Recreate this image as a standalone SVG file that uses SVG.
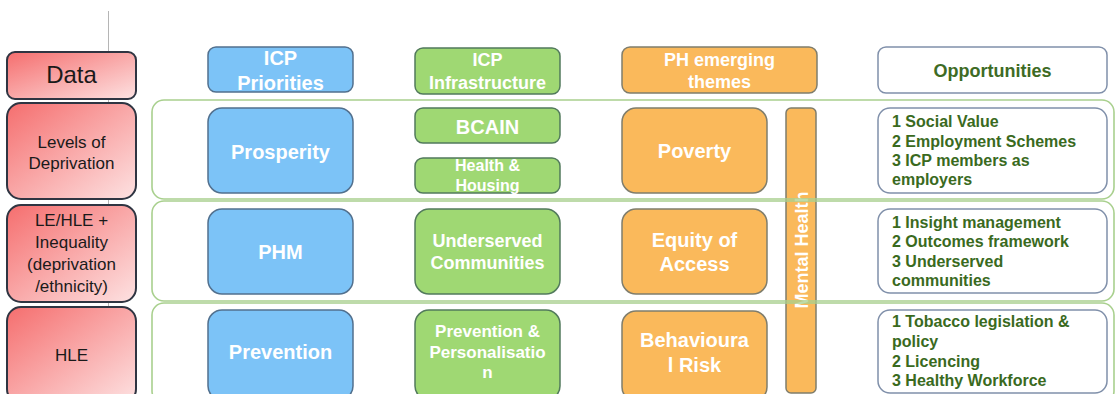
<svg xmlns="http://www.w3.org/2000/svg" width="1116" height="394" viewBox="0 0 1116 394">
  <defs>
    <linearGradient id="redFill" x1="0" y1="0" x2="1" y2="1">
      <stop offset="0" stop-color="#f56e6e"/>
      <stop offset="1" stop-color="#fde2e2"/>
    </linearGradient>
    <style>
      .data { fill: url(#redFill); stroke: #2f3542; stroke-width: 2; }
      .blue { fill: #7cc3f7; stroke: #52708e; stroke-width: 1.5; }
      .green { fill: #9fd873; stroke: #527a5c; stroke-width: 1.5; }
      .orange { fill: #fab95b; stroke: #7f7d6c; stroke-width: 1.5; }
      .opp { fill: #ffffff; stroke: #8090aa; stroke-width: 1.5; }
      .band { fill: none; stroke: #a9d08e; stroke-width: 1.6; }
      .dt { font-family: "Liberation Sans", Arial, sans-serif; fill: #1a1a1a; text-anchor: middle; }
      .wt { font-family: "Liberation Sans", Arial, sans-serif; font-weight: bold; fill: #ffffff; text-anchor: middle; }
      .gt { font-family: "Liberation Sans", Arial, sans-serif; font-weight: bold; fill: #3a6a1e; font-size: 16px; }
    </style>
  </defs>

  <rect width="1116" height="394" fill="#ffffff"/>

  <!-- thin guide line behind the data column -->
  <line x1="108.5" y1="11" x2="108.5" y2="394" stroke="#b5b5b5" stroke-width="1"/>

  <!-- data column -->
  <g id="data-header">
    <rect class="data" x="7" y="52" width="129" height="47" rx="8"/>
    <text class="dt" x="71.5" y="83" font-size="24">Data</text>
  </g>
  <g id="data-deprivation">
    <rect class="data" x="7" y="103" width="129" height="96" rx="14"/>
    <text class="dt" x="71.5" font-size="17"><tspan x="71.5" y="148">Levels of</tspan><tspan x="71.5" y="169">Deprivation</tspan></text>
  </g>
  <g id="data-inequality">
    <rect class="data" x="7" y="205" width="129" height="97" rx="14"/>
    <text class="dt" x="71.5" font-size="17"><tspan x="71.5" y="226">LE/HLE +</tspan><tspan x="71.5" y="248">Inequality</tspan><tspan x="71.5" y="270">(deprivation</tspan><tspan x="71.5" y="292">/ethnicity)</tspan></text>
  </g>
  <g id="data-hle">
    <rect class="data" x="7" y="307" width="129" height="96" rx="14"/>
    <text class="dt" x="71.5" y="361" font-size="17">HLE</text>
  </g>

  <!-- ICP priorities column -->
  <g id="priorities-header">
    <rect class="blue" x="208" y="47" width="145" height="45" rx="8"/>
    <text class="wt" font-size="20"><tspan x="280.5" y="65">ICP</tspan><tspan x="280.5" y="90">Priorities</tspan></text>
  </g>
  <g id="prosperity">
    <rect class="blue" x="208" y="108" width="145" height="85" rx="14"/>
    <text class="wt" x="280.5" y="159" font-size="20">Prosperity</text>
  </g>
  <g id="phm">
    <rect class="blue" x="208" y="209" width="145" height="85" rx="14"/>
    <text class="wt" x="280.5" y="259" font-size="20">PHM</text>
  </g>
  <g id="prevention">
    <rect class="blue" x="208" y="310" width="145" height="90" rx="14"/>
    <text class="wt" x="280.5" y="359" font-size="20">Prevention</text>
  </g>

  <!-- ICP infrastructure column -->
  <g id="infrastructure-header">
    <rect class="green" x="415" y="48" width="145" height="46" rx="8"/>
    <text class="wt" font-size="18"><tspan x="487.5" y="66">ICP</tspan><tspan x="487.5" y="88.5">Infrastructure</tspan></text>
  </g>
  <g id="bcain">
    <rect class="green" x="415" y="108" width="145" height="35" rx="8"/>
    <text class="wt" x="487.5" y="134" font-size="20">BCAIN</text>
  </g>
  <g id="health-housing">
    <rect class="green" x="415" y="158" width="145" height="35" rx="8"/>
    <text class="wt" font-size="16"><tspan x="487.5" y="171">Health &amp;</tspan><tspan x="487.5" y="190.5">Housing</tspan></text>
  </g>
  <g id="underserved">
    <rect class="green" x="415" y="209" width="145" height="85" rx="14"/>
    <text class="wt" font-size="18"><tspan x="487.5" y="247">Underserved</tspan><tspan x="487.5" y="269">Communities</tspan></text>
  </g>
  <g id="personalisation">
    <rect class="green" x="415" y="310" width="145" height="90" rx="14"/>
    <text class="wt" font-size="17"><tspan x="487.5" y="337">Prevention &amp;</tspan><tspan x="487.5" y="358">Personalisatio</tspan><tspan x="487.5" y="378">n</tspan></text>
  </g>

  <!-- PH emerging themes column -->
  <g id="themes-header">
    <rect class="orange" x="622" y="47" width="195" height="46" rx="8"/>
    <text class="wt" font-size="18"><tspan x="719.5" y="65.5">PH emerging</tspan><tspan x="719.5" y="87.5">themes</tspan></text>
  </g>
  <g id="poverty">
    <rect class="orange" x="622" y="108" width="145" height="85" rx="14"/>
    <text class="wt" x="694.5" y="158" font-size="20">Poverty</text>
  </g>
  <g id="equity">
    <rect class="orange" x="622" y="209" width="145" height="85" rx="14"/>
    <text class="wt" font-size="20"><tspan x="694.5" y="247">Equity of</tspan><tspan x="694.5" y="271">Access</tspan></text>
  </g>
  <g id="behavioural">
    <rect class="orange" x="622" y="311" width="145" height="90" rx="14"/>
    <text class="wt" font-size="20"><tspan x="694.5" y="347">Behavioura</tspan><tspan x="694.5" y="372">l Risk</tspan></text>
  </g>
  <g id="mental-health">
    <rect class="orange" x="786" y="108" width="30" height="285" rx="5"/>
    <text class="wt" font-size="18" transform="translate(801 250) rotate(-90)" x="0" y="6.5">Mental Health</text>
  </g>

  <!-- row bands, drawn over the mental health bar -->
  <g id="rows">
    <rect class="band" x="152" y="100" width="962" height="99" rx="12"/>
    <rect class="band" x="152" y="201" width="962" height="100" rx="12"/>
    <rect class="band" x="152" y="303" width="962" height="100" rx="12"/>
  </g>

  <!-- opportunities column -->
  <g id="opportunities-header">
    <rect class="opp" x="878" y="47" width="229" height="46" rx="8"/>
    <text x="992.5" y="76.5" font-family="Liberation Sans, Arial, sans-serif" font-weight="bold" font-size="18" fill="#3e6b25" text-anchor="middle">Opportunities</text>
  </g>
  <g id="opportunities-prosperity">
    <rect class="opp" x="878" y="108" width="229" height="85" rx="12"/>
    <text class="gt"><tspan x="892" y="127">1 Social Value</tspan><tspan x="892" y="147">2 Employment Schemes</tspan><tspan x="892" y="166">3 ICP members as</tspan><tspan x="892" y="185">employers</tspan></text>
  </g>
  <g id="opportunities-phm">
    <rect class="opp" x="878" y="209" width="229" height="84" rx="12"/>
    <text class="gt"><tspan x="892" y="228">1 Insight management</tspan><tspan x="892" y="247">2 Outcomes framework</tspan><tspan x="892" y="267">3 Underserved</tspan><tspan x="892" y="286">communities</tspan></text>
  </g>
  <g id="opportunities-prevention">
    <rect class="opp" x="878" y="310" width="229" height="83" rx="12"/>
    <text class="gt"><tspan x="892" y="327">1 Tobacco legislation &amp;</tspan><tspan x="892" y="347">policy</tspan><tspan x="892" y="367">2 Licencing</tspan><tspan x="892" y="386">3 Healthy Workforce</tspan></text>
  </g>
</svg>
